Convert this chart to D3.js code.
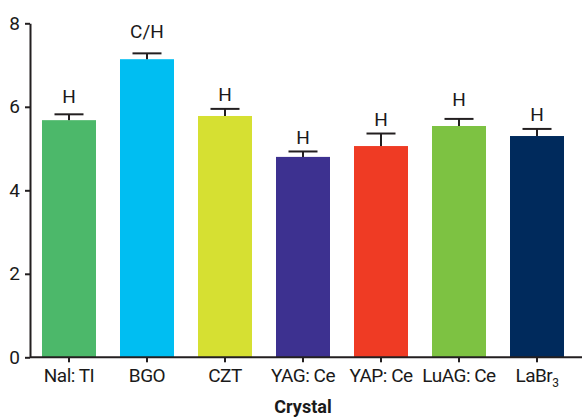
<!DOCTYPE html>
<html>
<head>
<meta charset="utf-8">
<script src="https://cdn.jsdelivr.net/npm/d3@7"></script>
<style>
  body { margin: 0; background: #fff; }
  text { font-family: Roboto, sans-serif; fill: #1a1a1a; }
</style>
</head>
<body>
<script>
// values
const crystals = ['Nal: TI', 'BGO', 'CZT', 'YAG: Ce', 'YAP: Ce', 'LuAG: Ce', 'LaBr3'];
const means = [5.68, 7.14, 5.78, 4.80, 5.06, 5.54, 5.30];
const errors = [0.14, 0.14, 0.17, 0.13, 0.30, 0.17, 0.17];
const marks = ['H', 'C/H', 'H', 'H', 'H', 'H', 'H'];
const markAt = [6.10, 7.65, 6.15, 5.11, 5.54, 6.02, 5.66];
const colors = ['#4cb86a', '#00bef2', '#d6e032', '#3d3190', '#ef3b24', '#7dc242', '#002a5c'];
const yTicks = [0, 2, 4, 6, 8];

const width = 586, height = 418;
const plot = {left: 30, right: 576, top: 23.3, bottom: 357.3};

const svg = d3.select('body').append('svg')
    .attr('width', width)
    .attr('height', height);

const xScale = d3.scaleBand()
    .domain(crystals)
    .range([plot.left, plot.right])
    .paddingInner(0.3077)
    .paddingOuter(0.1538);

const yScale = d3.scaleLinear()
    .domain([0, 8])
    .range([plot.bottom, plot.top]);

// Bars
svg.selectAll('.bar')
    .data(crystals)
    .enter().append('rect')
    .attr('x', d => xScale(d))
    .attr('width', xScale.bandwidth())
    .attr('y', (d, i) => yScale(means[i]))
    .attr('height', (d, i) => yScale(0) - yScale(means[i]))
    .attr('fill', (d, i) => colors[i]);

// Error bars (upper only)
const err = svg.selectAll('.err')
    .data(crystals)
    .enter().append('g')
    .attr('stroke', '#231f20')
    .attr('stroke-width', 2);

err.append('line')
    .attr('x1', d => xScale(d) + xScale.bandwidth() / 2)
    .attr('x2', d => xScale(d) + xScale.bandwidth() / 2)
    .attr('y1', (d, i) => yScale(means[i]))
    .attr('y2', (d, i) => yScale(means[i] + errors[i]));

err.append('line')
    .attr('x1', d => xScale(d) + xScale.bandwidth() / 2 - 14.5)
    .attr('x2', d => xScale(d) + xScale.bandwidth() / 2 + 14.5)
    .attr('y1', (d, i) => yScale(means[i] + errors[i]))
    .attr('y2', (d, i) => yScale(means[i] + errors[i]));

// Significance marks
svg.selectAll('.mark')
    .data(crystals)
    .enter().append('text')
    .attr('x', d => xScale(d) + xScale.bandwidth() / 2)
    .attr('y', (d, i) => yScale(markAt[i]))
    .attr('text-anchor', 'middle')
    .style('font-size', '19px')
    .text((d, i) => marks[i]);

// Y axis
const yAxis = svg.append('g')
    .attr('transform', 'translate(' + plot.left + ',0)')
    .call(d3.axisLeft(yScale).tickValues(yTicks).tickSize(5).tickSizeOuter(0).tickPadding(5));

// X axis
const xAxis = svg.append('g')
    .attr('transform', 'translate(0,' + plot.bottom + ')')
    .call(d3.axisBottom(xScale).tickSize(5).tickSizeOuter(0).tickPadding(6));

xAxis.select('.domain').attr('d', 'M' + plot.left + ',0H582');

[yAxis, xAxis].forEach(g => {
    g.select('.domain').attr('stroke', '#231f20').attr('stroke-width', 2);
    g.selectAll('.tick line').attr('stroke', '#231f20').attr('stroke-width', 2);
    g.selectAll('.tick text')
        .style('font-size', '19px')
        .style('font-family', 'Roboto, sans-serif')
        .attr('fill', '#1a1a1a');
});

xAxis.selectAll('.tick text').style('letter-spacing', '-0.5px');

// subscript for LaBr3
xAxis.selectAll('.tick text')
    .filter(d => d === 'LaBr3')
    .text('LaBr')
    .append('tspan')
    .attr('dy', 5)
    .style('font-size', '12px')
    .text('3');

svg.append('text')
    .attr('x', (plot.left + plot.right) / 2)
    .attr('y', 413)
    .attr('text-anchor', 'middle')
    .style('font-size', '18px')
    .style('font-weight', 'bold')
    .text('Crystal');
</script>
</body>
</html>
